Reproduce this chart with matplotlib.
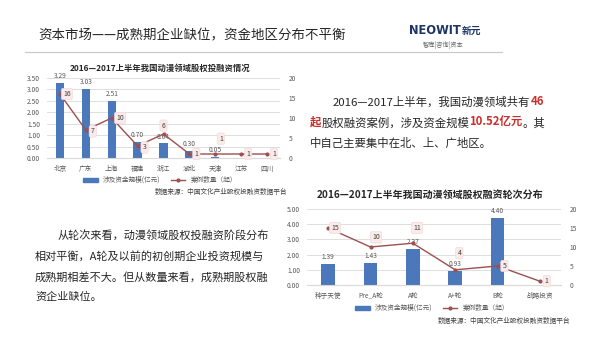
import matplotlib
matplotlib.use("Agg")
import matplotlib.pyplot as plt
from matplotlib.patches import Patch
from matplotlib.lines import Line2D

plt.rcParams['font.family'] = ['Noto Sans CJK SC', 'DejaVu Sans']

# data: region chart
regions = ['北京', '广东', '上海', '福建', '浙江', '湖北', '天津', '江苏', '四川']
region_amount = [3.29, 3.03, 2.51, 0.70, 0.64, 0.30, 0.05, 0, 0]
region_cases = [16, 7, 10, 3, 6, 1, 1, 1, 1]

# data: round chart
rounds = ['种子天使', 'Pre_A轮', 'A轮', 'A+轮', 'B轮', '战略投资']
round_amount = [1.39, 1.43, 2.37, 0.93, 4.40, 0]
round_cases = [15, 10, 11, 4, 5, 1]

BAR = '#4a78bb'
LINE = '#9c5050'
GRID = '#d9d9d9'
TICK = '#595959'
RED = '#c9302c'
TXT = '#262626'

W, H = 600, 338
fig = plt.figure(figsize=(6, 3.38), dpi=100)

# overlay in pixel coordinates for slide text
bg = fig.add_axes([0, 0, 1, 1])
bg.set_xlim(0, W)
bg.set_ylim(H, 0)
bg.axis('off')


def runs(x, y, parts, size):
    prev = None
    for s, color, weight in parts:
        if prev is None:
            prev = bg.text(x, y, s, color=color, fontweight=weight,
                           fontsize=size, va='bottom', ha='left')
        else:
            prev = bg.annotate(s, xy=(1, 0), xycoords=prev, color=color,
                               fontweight=weight, fontsize=size,
                               va='bottom', ha='left')
    return prev


# header
bg.text(38, 35, '资本市场——成熟期企业缺位，资金地区分布不平衡', fontsize=9.7,
        color=TXT, va='center', ha='left')
bg.plot([25, 502], [52, 52], color='#c8c8c8', lw=0.8)
bg.text(461, 31, 'NEOWIT', fontsize=8.3, fontweight='bold', color='#1d3567',
        va='center', ha='right', family='DejaVu Sans')
bg.text(462, 31, '新元', fontsize=7, fontweight='bold', color='#1d3567',
        va='center', ha='left')
bg.text(443, 45, '智库|咨询|资本', fontsize=4.5, color='#666666',
        va='center', ha='center')

# right paragraph
fs = 8.2
runs(333, 108, [('2016—2017上半年，我国动漫领域共有', TXT, 'normal'),
                ('46', RED, 'bold')], fs)
runs(310, 129, [('起', RED, 'bold'), ('股权融资案例，涉及资金规模', TXT, 'normal'),
                ('10.52亿元', RED, 'bold'), ('。其', TXT, 'normal')], fs)
runs(310, 149, [('中自己主要集中在北、上、广地区。', TXT, 'normal')], fs)

# left paragraph
fs2 = 8.0
bg.text(58, 235, '从轮次来看，动漫领域股权投融资阶段分布', fontsize=fs2, color=TXT, va='center')
bg.text(35, 256, '相对平衡，A轮及以前的初创期企业投资规模与', fontsize=fs2, color=TXT, va='center')
bg.text(35, 277, '成熟期相差不大。但从数量来看，成熟期股权融', fontsize=fs2, color=TXT, va='center')
bg.text(35, 297, '资企业缺位。', fontsize=fs2, color=TXT, va='center')


def combo(rect, cats, amount, cases, ymax, ystep, offsets, title, title_xy,
          legend_xy, source_xy, tfs):
    x0, y0, x1, y1 = rect
    ax = fig.add_axes([x0 / W, 1 - y1 / H, (x1 - x0) / W, (y1 - y0) / H])
    xs = list(range(len(cats)))
    ax.bar(xs, amount, width=0.32, color=BAR, zorder=2)
    for x, v in zip(xs, amount):
        if v > 0:
            ax.annotate('%.2f' % v, (x, v), xytext=(0, 2), textcoords='offset points',
                        ha='center', va='bottom', fontsize=4.8, color=TICK, zorder=3)
    ax.set_xlim(-0.5, len(cats) - 0.5)
    ax.set_ylim(0, ymax)
    yt = [i * ystep for i in range(int(round(ymax / ystep)) + 1)]
    ax.set_yticks(yt)
    ax.set_yticklabels(['%.2f' % t for t in yt])
    ax.set_xticks(xs)
    ax.set_xticklabels(cats)
    ax.grid(axis='y', color=GRID, lw=0.6, zorder=0)
    for s in ax.spines.values():
        s.set_visible(False)
    ax.spines['bottom'].set_visible(True)
    ax.spines['bottom'].set_color(GRID)
    ax.tick_params(length=0, labelsize=4.8, colors=TICK, pad=5)

    ax2 = ax.twinx()
    ax2.plot(xs, cases, color=LINE, lw=1.0, marker='o', ms=2, zorder=4)
    ax2.set_ylim(0, 20)
    ax2.set_yticks([0, 5, 10, 15, 20])
    for s in ax2.spines.values():
        s.set_visible(False)
    ax2.tick_params(length=0, labelsize=4.8, colors=TICK, pad=6)
    for x, v, off in zip(xs, cases, offsets):
        ax2.annotate(str(v), (x, v), xytext=off, textcoords='offset points',
                     ha='center', va='center', fontsize=5, color='#404040', zorder=5,
                     bbox=dict(boxstyle='round,pad=0.25', fc='#fbeaea', ec='#f3d6d6', lw=0.4))

    bg.text(title_xy[0], title_xy[1], title, fontsize=tfs, fontweight='bold',
            color='#262626', ha='center', va='center')
    handles = [Patch(color=BAR), Line2D([], [], color=LINE, marker='o', ms=2, lw=1)]
    ax.legend(handles, ['涉及资金规模(亿元)', '案例数量（起）'], loc='center',
              bbox_to_anchor=(legend_xy[0] / W, 1 - legend_xy[1] / H),
              bbox_transform=fig.transFigure, ncol=2, frameon=False,
              fontsize=4.8, handlelength=2.2, handleheight=0.6, columnspacing=1.5,
              labelcolor=TICK)
    bg.text(source_xy[0], source_xy[1], '数据来源：中国文化产业股权投融资数据平台',
            fontsize=4.8, color='#404040', ha='right', va='center')


combo((47, 78, 280, 158), regions, region_amount, region_cases, 3.5, 0.5,
      [(5, 0), (5, -1), (6, 0), (5, -1), (0, 6), (5, 0), (4, 11), (5, 0), (5, 0)],
      '2016—2017上半年我国动漫领域股权投融资情况', (160, 68),
      (160, 180), (287, 192), 6.0)

combo((307, 209, 561, 285), rounds, round_amount, round_cases, 5.0, 1.0,
      [(5, 0), (4, 7), (3, 11), (3, 12), (5, 0), (5, 0)],
      '2016—2017上半年我国动漫领域股权融资轮次分布', (430, 195),
      (432, 308), (570, 321), 7.2)

fig.savefig('out.png', dpi=100, facecolor='white')
